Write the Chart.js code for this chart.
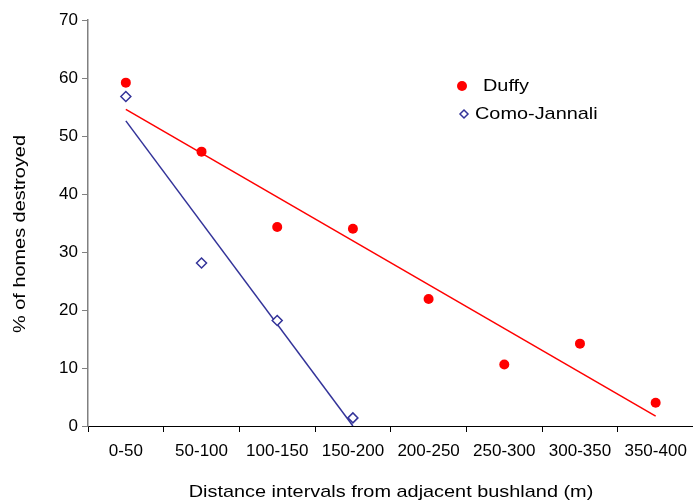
<!DOCTYPE html>
<html>
<head>
<meta charset="utf-8">
<script src="https://cdn.jsdelivr.net/npm/chart.js@4"></script>
<style>
  html, body { margin: 0; padding: 0; background: #fff; overflow: hidden; }
  #wrap { width: 700px; height: 504px; }
</style>
</head>
<body>
<div id="wrap"><canvas id="chart"></canvas></div>
<script>
// % of homes destroyed by distance from bushland — Duffy vs Como-Jannali
const intervals = ["0-50", "50-100", "100-150", "150-200", "200-250", "250-300", "300-350", "350-400"];
const duffy = [59.2, 47.3, 34.3, 34.0, 21.9, 10.6, 14.2, 4.0];
const como = [56.8, 28.1, 18.2, 1.4, null, null, null, null];
// trend line end points
const duffyTrend = [54.6, null, null, null, null, null, null, 1.7];
const comoTrend = [52.6, null, null, 0.0, null, null, null, null];
const yTicks = [0, 10, 20, 30, 40, 50, 60, 70];

const RED = "#ff0000", NAVY = "#333399";
const FONT = "'Liberation Sans', Arial, sans-serif";
const STRETCH = 1.17; // the original text is a bit wide

function wideText(g, txt, x, y, align) {
  g.save();
  g.translate(x, y);
  g.scale(STRETCH, 1);
  g.textAlign = align;
  g.fillText(txt, 0, 0);
  g.restore();
}

const overlay = {
  id: "overlay",
  afterDraw(chart) {
    const g = chart.ctx;
    g.save();
    g.fillStyle = "#000";
    g.font = `17px ${FONT}`;
    g.textBaseline = "middle";
    // axis titles
    wideText(g, "Distance intervals from adjacent bushland (m)", 391, 492, "center");
    g.save();
    g.translate(20, 234); g.rotate(-Math.PI / 2);
    wideText(g, "% of homes destroyed", 0, 0, "center");
    g.restore();

    // legend
    g.beginPath(); g.arc(462, 86, 5, 0, 2 * Math.PI);
    g.fillStyle = RED; g.fill();
    g.beginPath();
    g.moveTo(464, 110); g.lineTo(468, 114); g.lineTo(464, 118); g.lineTo(460, 114); g.closePath();
    g.fillStyle = "#fff"; g.fill();
    g.strokeStyle = NAVY; g.lineWidth = 1.5; g.stroke();
    g.fillStyle = "#000";
    wideText(g, "Duffy", 483, 86, "left");
    wideText(g, "Como-Jannali", 475, 114, "left");
    g.restore();
  },
};

new Chart(document.getElementById("chart"), {
  type: "line",
  data: {
    labels: intervals,
    datasets: [
      { label: "Duffy", data: duffy, showLine: false, pointStyle: "circle",
        pointRadius: 5, pointBackgroundColor: RED, pointBorderColor: RED, pointBorderWidth: 0 },
      { label: "Como-Jannali", data: como, showLine: false, pointStyle: "rectRot",
        pointRadius: 5, pointBackgroundColor: "#fff", pointBorderColor: NAVY, pointBorderWidth: 1.5 },
      { label: "Duffy trend", data: duffyTrend, spanGaps: true, borderColor: RED,
        borderWidth: 1.5, pointRadius: 0, tension: 0 },
      { label: "Como trend", data: comoTrend, spanGaps: true, borderColor: NAVY,
        borderWidth: 1.5, pointRadius: 0, tension: 0 },
    ],
  },
  options: {
    responsive: true, maintainAspectRatio: false, animation: false,
    layout: { padding: { top: 20, right: 0, left: 0, bottom: 0 } },
    plugins: { legend: { display: false }, tooltip: { enabled: false } },
    scales: {
      x: {
        offset: true,
        grid: { display: true, offset: true, drawOnChartArea: false, tickLength: 6, color: "#000" },
        border: { display: true, color: "#000", width: 1 },
        ticks: { color: "#000", font: { family: FONT, size: 17 }, padding: 9, maxRotation: 0, autoSkip: false },
        afterFit: (s) => { s.height = 78; },
      },
      y: {
        min: 0, max: 70,
        afterBuildTicks: (s) => { s.ticks = yTicks.map((v) => ({ value: v })); },
        grid: { display: true, drawOnChartArea: false, tickLength: 6, color: "#808080" },
        border: { display: true, color: "#808080", width: 1.5 },
        ticks: { color: "#000", font: { family: FONT, size: 17 }, padding: 4 },
        afterFit: (s) => { s.width = 88; },
      },
    },
  },
  plugins: [overlay],
});
</script>
</body>
</html>
